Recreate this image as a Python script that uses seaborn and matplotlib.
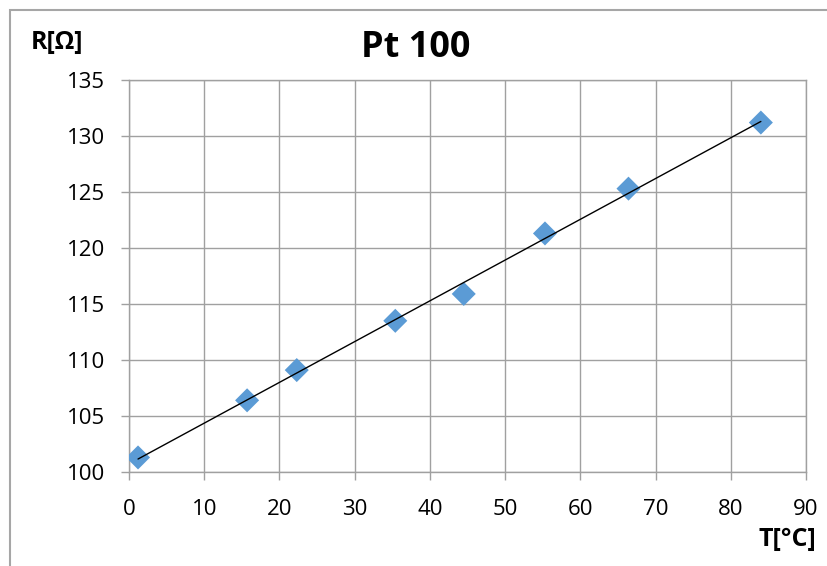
import matplotlib
matplotlib.use("Agg")
import matplotlib.pyplot as plt
import seaborn as sns
import pandas as pd
import numpy as np
from matplotlib.patches import Rectangle

# Data
temperature = [1.2, 15.7, 22.3, 35.4, 44.5, 55.3, 66.4, 84.0]
resistance = [101.3, 106.4, 109.1, 113.5, 115.9, 121.3, 125.3, 131.2]
x_ticks = [0, 10, 20, 30, 40, 50, 60, 70, 80, 90]
y_ticks = [100, 105, 110, 115, 120, 125, 130, 135]

df = pd.DataFrame({"T": temperature, "R": resistance})

sns.set_style("white")
plt.rcParams['font.family'] = ['Open Sans', 'DejaVu Sans']
plt.rcParams['text.color'] = 'black'

fig = plt.figure(figsize=(8.28, 5.66), dpi=100)
ax = fig.add_axes([129/828, 1-472/566, (806-129)/828, (472-80)/566])

# figure border
fig.patches.append(Rectangle((10/828, -0.1), 1.2, 1 - 10/566 + 0.1, transform=fig.transFigure,
                             fill=False, edgecolor="#A6A6A6", linewidth=1.5, zorder=0))

grid_c = "#A0A0A0"
ax.grid(True, color=grid_c, linewidth=1.0)
ax.set_axisbelow(True)

sns.regplot(data=df, x="T", y="R", ax=ax, ci=None, marker="D",
            scatter_kws=dict(s=150, color="#5B9BD5", edgecolors="none", alpha=1.0, zorder=3),
            line_kws=dict(color="black", linewidth=1.0, zorder=4))

ax.set_xlim(0, 90)
ax.set_ylim(100, 135)
ax.set_xticks(x_ticks)
ax.set_yticks(y_ticks)
ax.set_xlabel("")
ax.set_ylabel("")
for s in ax.spines.values():
    s.set_color(grid_c)
    s.set_linewidth(1.0)
ax.tick_params(axis="both", which="both", direction="out", length=5.5, width=1.0,
               color=grid_c, labelsize=16, labelcolor="black")
ax.tick_params(axis="y", pad=12)
ax.tick_params(axis="x", pad=14)
ax.tick_params(left=True, bottom=True)

fig.text(416/828, 1-48/566, "Pt 100", ha="center", va="center", fontsize=26, fontweight="bold",
         color="black")
fig.text(31/828, 1-42/566, "R[Ω]", ha="left", va="center", fontsize=18, fontweight="bold",
         color="black")
fig.text(816/828, 1-539/566, "T[°C]", ha="right", va="center", fontsize=18, fontweight="bold",
         color="black")

fig.savefig("out.png", dpi=100)
